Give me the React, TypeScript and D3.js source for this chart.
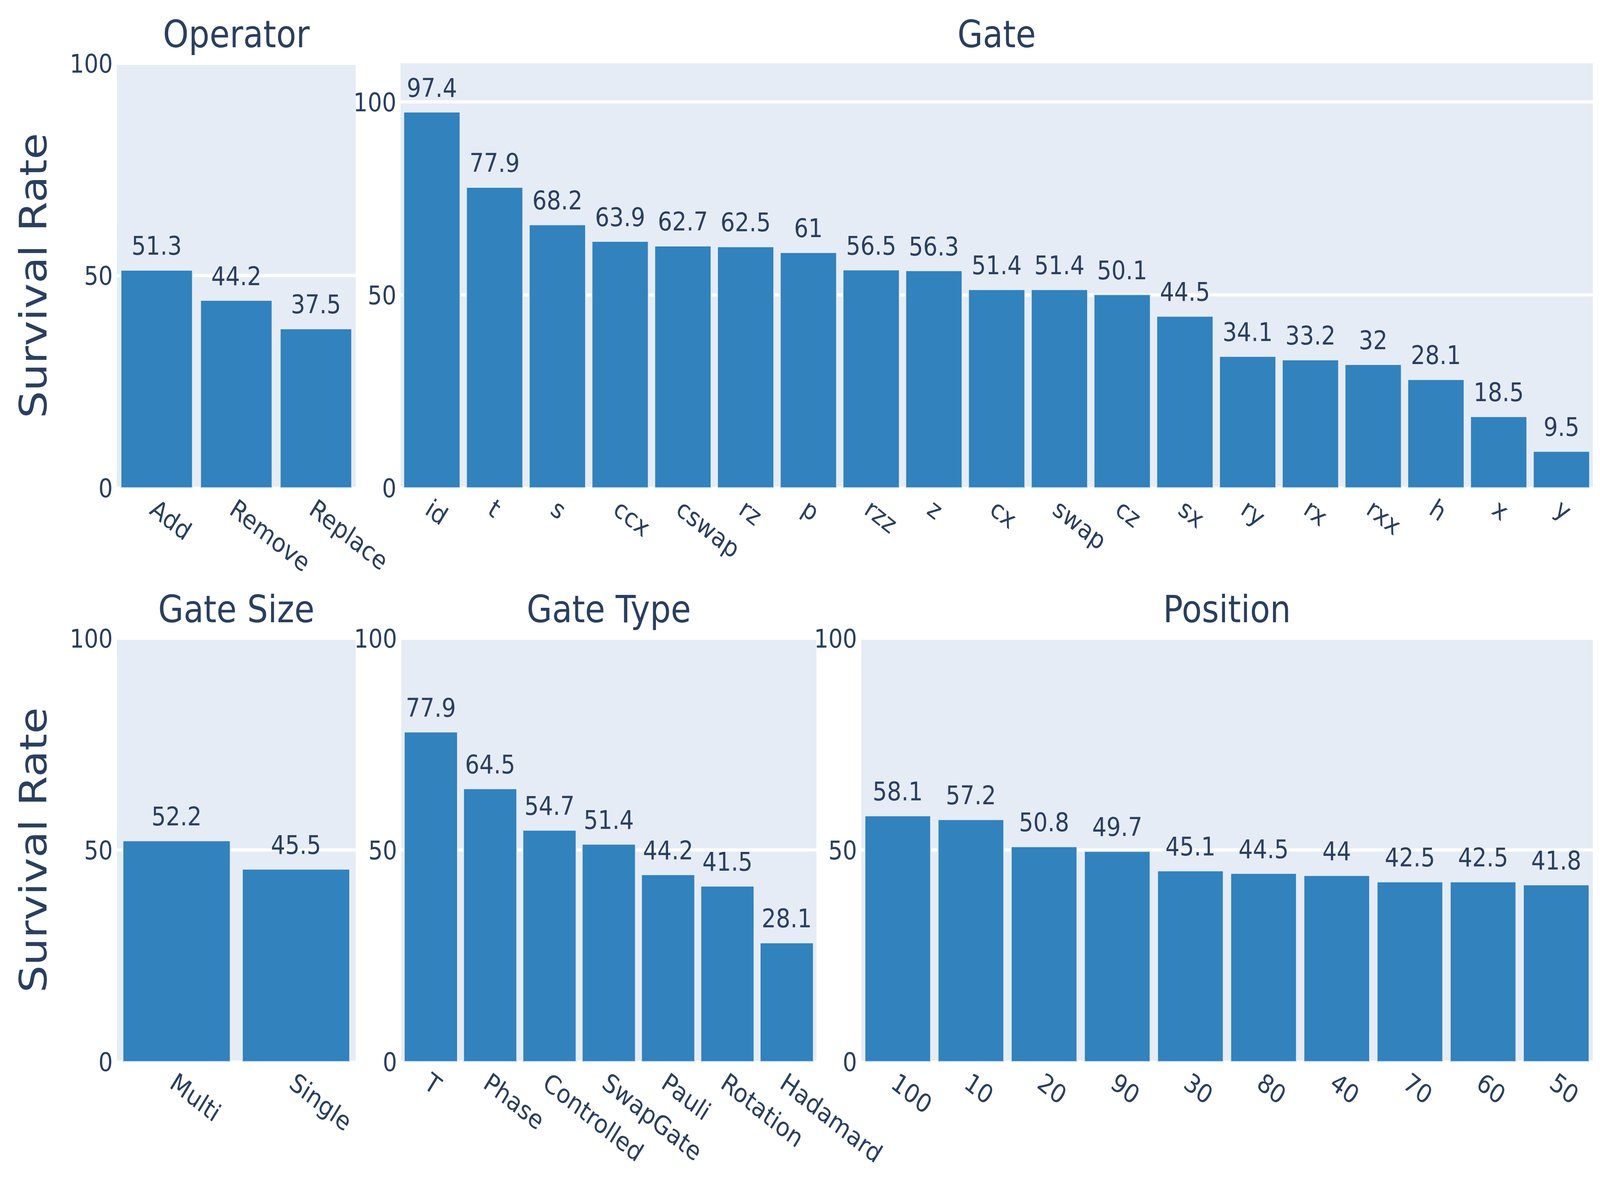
import React, { useEffect } from "react";
import * as d3 from "d3";

const operatorCats = ["Add", "Remove", "Replace"];
const operatorVals = [51.3, 44.2, 37.5];

const gateCats = ["id", "t", "s", "ccx", "cswap", "rz", "p", "rzz", "z", "cx", "swap", "cz", "sx", "ry", "rx", "rxx", "h", "x", "y"];
const gateVals = [97.4, 77.9, 68.2, 63.9, 62.7, 62.5, 61, 56.5, 56.3, 51.4, 51.4, 50.1, 44.5, 34.1, 33.2, 32, 28.1, 18.5, 9.5];

const gateSizeCats = ["Multi", "Single"];
const gateSizeVals = [52.2, 45.5];

const gateTypeCats = ["T", "Phase", "Controlled", "SwapGate", "Pauli", "Rotation", "Hadamard"];
const gateTypeVals = [77.9, 64.5, 54.7, 51.4, 44.2, 41.5, 28.1];

const positionCats = ["100", "10", "20", "90", "30", "80", "40", "70", "60", "50"];
const positionVals = [58.1, 57.2, 50.8, 49.7, 45.1, 44.5, 44, 42.5, 42.5, 41.8];

const yTicks = [0, 50, 100];
const yAxisTitle = "Survival Rate";

const W = 4682;
const H = 3026;
const FONT = "'DejaVu Sans', Verdana, sans-serif";
const TEXT = "#2a3f5f";
const BG = "#E5ECF6";
const BAR = "#3182bd";

type PanelSpec = {
  title: string;
  cats: string[];
  vals: number[];
  x0: number;
  x1: number;
  y0: number;
  y1: number;
  ymax: number;
};

const panels: PanelSpec[] = [
  { title: "Operator", cats: operatorCats, vals: operatorVals, x0: 342, x1: 1041, y0: 162, y1: 1249, ymax: 100 },
  { title: "Gate", cats: gateCats, vals: gateVals, x0: 1172, x1: 4661, y0: 162, y1: 1249, ymax: 110 },
  { title: "Gate Size", cats: gateSizeCats, vals: gateSizeVals, x0: 342, x1: 1041, y0: 1634, y1: 2718, ymax: 100 },
  { title: "Gate Type", cats: gateTypeCats, vals: gateTypeVals, x0: 1174, x1: 2389, y0: 1634, y1: 2718, ymax: 100 },
  { title: "Position", cats: positionCats, vals: positionVals, x0: 2520, x1: 4661, y0: 1634, y1: 2718, ymax: 100 },
];

function Panel({ p }: { p: PanelSpec }) {
  const x = d3.scaleBand<string>().domain(p.cats).range([p.x0, p.x1]).paddingInner(0.1).paddingOuter(0.05);
  const y = d3.scaleLinear().domain([0, p.ymax]).range([p.y1, p.y0]);
  const cx = (p.x0 + p.x1) / 2;
  return (
    <g>
      <rect x={p.x0} y={p.y0} width={p.x1 - p.x0} height={p.y1 - p.y0} fill={BG} />
      {yTicks.map((t) => (
        <line key={"g" + t} x1={p.x0} x2={p.x1} y1={y(t)} y2={y(t)} stroke="#ffffff" strokeWidth={t === 0 ? 6 : 8} />
      ))}
      {yTicks.map((t) => (
        <text key={"t" + t} x={p.x0 - 12} y={y(t) + 24} textAnchor="end" fontSize={66} fill={TEXT} fontFamily={FONT}>
          {t}
        </text>
      ))}
      {p.cats.map((c, i) => (
        <rect
          key={"b" + c}
          x={x(c)!}
          y={y(p.vals[i])}
          width={x.bandwidth()}
          height={y(0) - y(p.vals[i])}
          fill={BAR}
          stroke={BG}
          strokeWidth={3}
        />
      ))}
      {p.cats.map((c, i) => (
        <text
          key={"v" + c}
          x={x(c)! + x.bandwidth() / 2}
          y={y(p.vals[i]) - 39}
          textAnchor="middle"
          fontSize={66}
          fill={TEXT}
          fontFamily={FONT}
        >
          {String(p.vals[i])}
        </text>
      ))}
      {p.cats.map((c) => (
        <text
          key={"x" + c}
          transform={`translate(${x(c)! + x.bandwidth() / 2 - 24},${p.y1 + 64}) rotate(35)`}
          textAnchor="start"
          fontSize={66}
          fill={TEXT}
          fontFamily={FONT}
        >
          {c}
        </text>
      ))}
      <text x={cx} y={p.y0 - 41} textAnchor="middle" fontSize={96} fill={TEXT} fontFamily={FONT}>
        {p.title}
      </text>
    </g>
  );
}

export default function App() {
  useEffect(() => {
    document.body.style.margin = "0";
    document.body.style.overflow = "hidden";
  }, []);
  return (
    <svg
      viewBox={`0 0 ${W} ${H}`}
      preserveAspectRatio="none"
      style={{ position: "fixed", left: 0, top: 0, width: "100vw", height: "100vh", background: "#ffffff", display: "block" }}
    >
      <rect x={0} y={0} width={W} height={H} fill="#ffffff" />
      {panels.map((p) => (
        <Panel key={p.title} p={p} />
      ))}
      <text transform={`translate(136,${(162 + 1249) / 2}) rotate(-90)`} textAnchor="middle" fontSize={110} fill={TEXT} fontFamily={FONT}>
        {yAxisTitle}
      </text>
      <text transform={`translate(136,${(1634 + 2718) / 2}) rotate(-90)`} textAnchor="middle" fontSize={110} fill={TEXT} fontFamily={FONT}>
        {yAxisTitle}
      </text>
    </svg>
  );
}
